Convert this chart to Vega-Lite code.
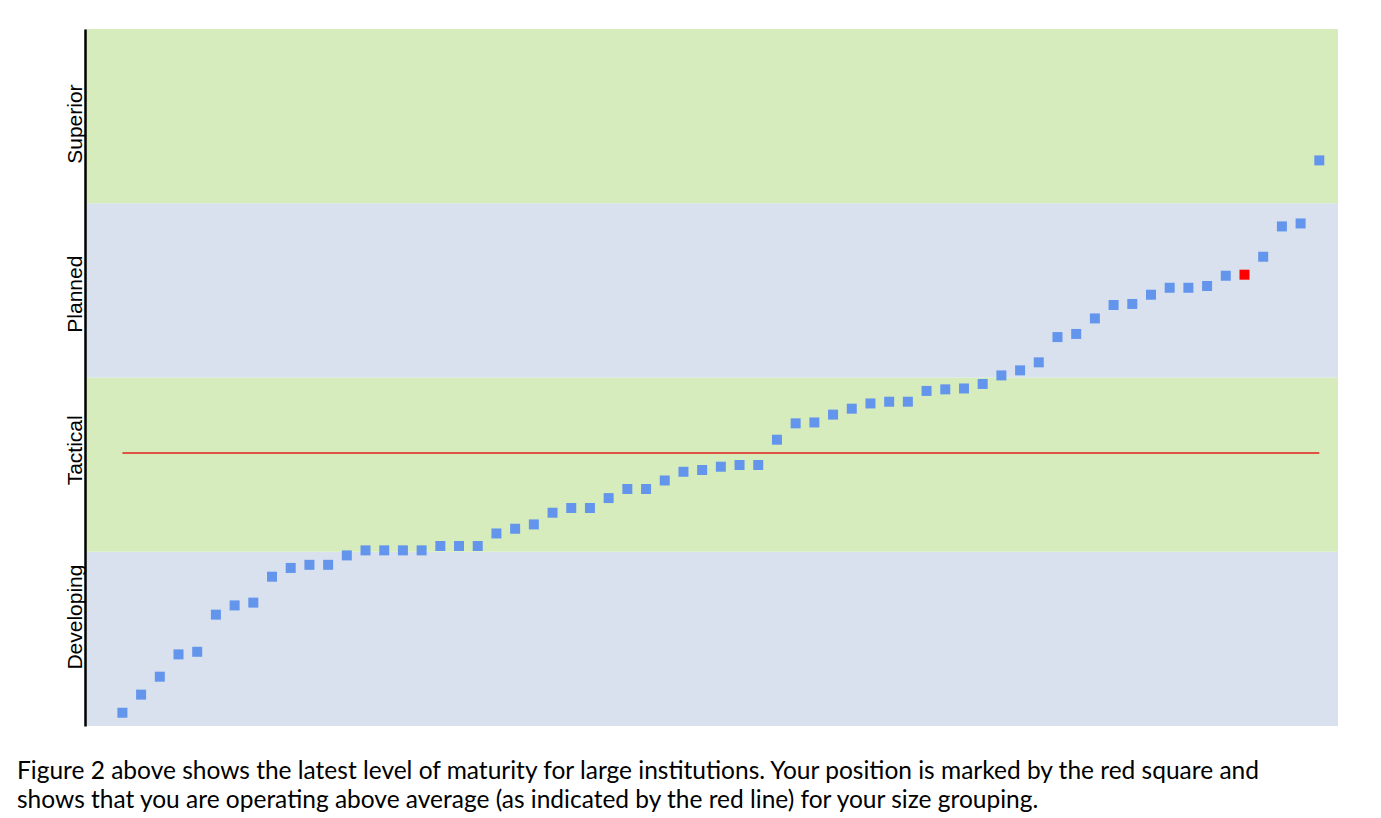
{
  "$schema": "https://vega.github.io/schema/vega-lite/v6.json",
  "width": 1253,
  "height": 697,
  "autosize": {"type": "none"},
  "padding": {"left": 85, "top": 29, "right": 43, "bottom": 92},
  "background": "white",
  "config": {"view": {"stroke": null}},
  "title": {
    "text": [
      "Figure 2 above shows the latest level of maturity for large institutions. Your position is marked by the red square and",
      "shows that you are operating above average (as indicated by the red line) for your size grouping."
    ],
    "orient": "bottom",
    "anchor": "start",
    "frame": "group",
    "dx": -68,
    "offset": 34,
    "font": "Lato",
    "fontSize": 24.5,
    "fontWeight": "normal",
    "color": "black",
    "lineHeight": 28.5,
    "baseline": "top"
  },
  "datasets": {
    "bands": [
      {"level": "Developing", "lo": 0, "hi": 1},
      {"level": "Tactical", "lo": 1, "hi": 2},
      {"level": "Planned", "lo": 2, "hi": 3},
      {"level": "Superior", "lo": 3, "hi": 4}
    ],
    "scores": [
      {"rank": 1, "score": 0.076, "group": "Peer"},
      {"rank": 2, "score": 0.180, "group": "Peer"},
      {"rank": 3, "score": 0.283, "group": "Peer"},
      {"rank": 4, "score": 0.411, "group": "Peer"},
      {"rank": 5, "score": 0.426, "group": "Peer"},
      {"rank": 6, "score": 0.639, "group": "Peer"},
      {"rank": 7, "score": 0.692, "group": "Peer"},
      {"rank": 8, "score": 0.708, "group": "Peer"},
      {"rank": 9, "score": 0.857, "group": "Peer"},
      {"rank": 10, "score": 0.907, "group": "Peer"},
      {"rank": 11, "score": 0.925, "group": "Peer"},
      {"rank": 12, "score": 0.925, "group": "Peer"},
      {"rank": 13, "score": 0.979, "group": "Peer"},
      {"rank": 14, "score": 1.008, "group": "Peer"},
      {"rank": 15, "score": 1.008, "group": "Peer"},
      {"rank": 16, "score": 1.008, "group": "Peer"},
      {"rank": 17, "score": 1.008, "group": "Peer"},
      {"rank": 18, "score": 1.033, "group": "Peer"},
      {"rank": 19, "score": 1.033, "group": "Peer"},
      {"rank": 20, "score": 1.033, "group": "Peer"},
      {"rank": 21, "score": 1.105, "group": "Peer"},
      {"rank": 22, "score": 1.132, "group": "Peer"},
      {"rank": 23, "score": 1.157, "group": "Peer"},
      {"rank": 24, "score": 1.224, "group": "Peer"},
      {"rank": 25, "score": 1.251, "group": "Peer"},
      {"rank": 26, "score": 1.251, "group": "Peer"},
      {"rank": 27, "score": 1.308, "group": "Peer"},
      {"rank": 28, "score": 1.360, "group": "Peer"},
      {"rank": 29, "score": 1.360, "group": "Peer"},
      {"rank": 30, "score": 1.409, "group": "Peer"},
      {"rank": 31, "score": 1.459, "group": "Peer"},
      {"rank": 32, "score": 1.469, "group": "Peer"},
      {"rank": 33, "score": 1.488, "group": "Peer"},
      {"rank": 34, "score": 1.498, "group": "Peer"},
      {"rank": 35, "score": 1.498, "group": "Peer"},
      {"rank": 36, "score": 1.643, "group": "Peer"},
      {"rank": 37, "score": 1.737, "group": "Peer"},
      {"rank": 38, "score": 1.742, "group": "Peer"},
      {"rank": 39, "score": 1.787, "group": "Peer"},
      {"rank": 40, "score": 1.821, "group": "Peer"},
      {"rank": 41, "score": 1.851, "group": "Peer"},
      {"rank": 42, "score": 1.861, "group": "Peer"},
      {"rank": 43, "score": 1.861, "group": "Peer"},
      {"rank": 44, "score": 1.923, "group": "Peer"},
      {"rank": 45, "score": 1.932, "group": "Peer"},
      {"rank": 46, "score": 1.937, "group": "Peer"},
      {"rank": 47, "score": 1.963, "group": "Peer"},
      {"rank": 48, "score": 2.012, "group": "Peer"},
      {"rank": 49, "score": 2.041, "group": "Peer"},
      {"rank": 50, "score": 2.087, "group": "Peer"},
      {"rank": 51, "score": 2.232, "group": "Peer"},
      {"rank": 52, "score": 2.250, "group": "Peer"},
      {"rank": 53, "score": 2.339, "group": "Peer"},
      {"rank": 54, "score": 2.416, "group": "Peer"},
      {"rank": 55, "score": 2.422, "group": "Peer"},
      {"rank": 56, "score": 2.475, "group": "Peer"},
      {"rank": 57, "score": 2.515, "group": "Peer"},
      {"rank": 58, "score": 2.515, "group": "Peer"},
      {"rank": 59, "score": 2.525, "group": "Peer"},
      {"rank": 60, "score": 2.584, "group": "Peer"},
      {"rank": 61, "score": 2.590, "group": "You"},
      {"rank": 62, "score": 2.693, "group": "Peer"},
      {"rank": 63, "score": 2.867, "group": "Peer"},
      {"rank": 64, "score": 2.884, "group": "Peer"},
      {"rank": 65, "score": 3.246, "group": "Peer"}
    ],
    "average": [{"start": 1, "end": 65, "score": 1.567}]
  },
  "resolve": {"scale": {"color": "independent"}},
  "layer": [
    {
      "data": {"name": "bands"},
      "mark": {"type": "rect"},
      "encoding": {
        "x": {"datum": -1, "type": "quantitative", "scale": {"domain": [-1, 66], "nice": false, "zero": false}, "axis": null},
        "x2": {"datum": 66},
        "y": {
          "field": "lo", "type": "quantitative",
          "scale": {"domain": [0, 4], "nice": false, "zero": false},
          "axis": {
            "values": [0.628, 1.585, 2.481, 3.457],
            "labelExpr": "datum.value < 1 ? 'Developing' : datum.value < 2 ? 'Tactical' : datum.value < 3 ? 'Planned' : 'Superior'",
            "labelAngle": 270,
            "labelAlign": "center",
            "labelBaseline": "alphabetic",
            "labelPadding": 3.5,
            "ticks": false,
            "tickSize": 0,
            "grid": false,
            "domain": true,
            "domainColor": "black",
            "domainWidth": 2.5,
            "labelFont": "Liberation Sans",
            "labelFontSize": 21,
            "labelColor": "black",
            "labelOverlap": false,
            "labelBound": false,
            "labelFlush": false,
            "title": null,
            "zindex": 1
          }
        },
        "y2": {"field": "hi"},
        "color": {
          "field": "level", "type": "nominal",
          "scale": {"domain": ["Developing", "Tactical", "Planned", "Superior"], "range": ["#D8E1ED", "#D6ECBD", "#D8E1ED", "#D6ECBD"]},
          "legend": null
        }
      }
    },
    {
      "mark": {"type": "rule", "color": "#4D4D4D", "strokeWidth": 1.5},
      "encoding": {"y": {"datum": 1, "type": "quantitative"}}
    },
    {
      "mark": {"type": "rule", "color": "#4D4D4D", "strokeWidth": 1.5},
      "encoding": {"y": {"datum": 3, "type": "quantitative"}}
    },
    {
      "mark": {"type": "rule", "color": "#909C88", "strokeWidth": 2},
      "encoding": {"y": {"datum": 2, "type": "quantitative"}}
    },
    {
      "mark": {"type": "rule", "color": "#707070", "strokeWidth": 1.5},
      "encoding": {"y": {"datum": 0, "type": "quantitative"}}
    },
    {
      "mark": {"type": "rule", "color": "#707070", "strokeWidth": 1},
      "encoding": {"y": {"datum": 4, "type": "quantitative"}}
    },
    {
      "data": {"name": "average"},
      "mark": {"type": "rule", "color": "#E0201A", "strokeWidth": 1.5},
      "encoding": {
        "x": {"field": "start", "type": "quantitative"},
        "x2": {"field": "end"},
        "y": {"field": "score", "type": "quantitative"}
      }
    },
    {
      "data": {"name": "scores"},
      "mark": {"type": "point", "shape": "square", "size": 100, "filled": true, "opacity": 1, "strokeWidth": 0},
      "encoding": {
        "x": {"field": "rank", "type": "quantitative"},
        "y": {"field": "score", "type": "quantitative"},
        "color": {
          "field": "group", "type": "nominal",
          "scale": {"domain": ["Peer", "You"], "range": ["#6495ED", "#FF0000"]},
          "legend": null
        }
      }
    }
  ]
}
